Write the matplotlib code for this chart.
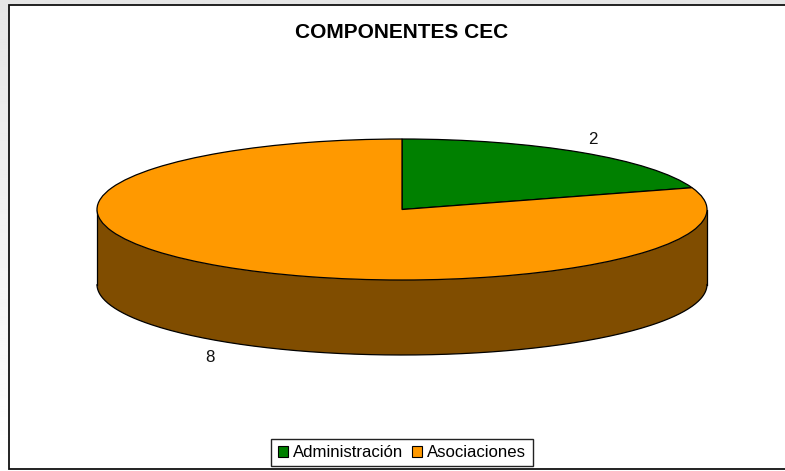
import numpy as np
import matplotlib
matplotlib.use("Agg")
import matplotlib.pyplot as plt
from matplotlib.patches import Rectangle

categories = ["Administración", "Asociaciones"]
values = [2, 8]
value_labels = ["2", "8"]
title = "COMPONENTES CEC"
top_colors = ["#008000", "#FF9900"]
side_colors = ["#004000", "#804D00"]

W, H = 785, 471
plt.rcParams["font.family"] = ["Liberation Sans", "DejaVu Sans"]
fig = plt.figure(figsize=(W / 100, H / 100), dpi=100, facecolor="white")


def px_axes(x0, y0, x1, y1, **kw):
    return fig.add_axes([x0 / W, 1 - y1 / H, (x1 - x0) / W, (y1 - y0) / H], **kw)


# background: soft grey fade behind the chart frame
bg = px_axes(0, 0, W, H)
bg.imshow(np.linspace(0.90, 1.0, 256).reshape(-1, 1), cmap="gray", vmin=0, vmax=1,
          aspect="auto", extent=(0, W, H, 0))
bg.set_xlim(0, W)
bg.set_ylim(H, 0)
bg.axis("off")
bg.add_patch(Rectangle((8.5, 5.2), W + 20, 463.8, facecolor="white",
                       edgecolor="#111111", linewidth=1.3))
bg.text(402, 32, title, ha="center", va="center", fontsize=15, fontweight="bold", color="black")

# pie top
ax = px_axes(97, 139, 707, 280)
ax.patch.set_alpha(0)
wedges, _ = ax.pie(values, colors=top_colors, startangle=90, counterclock=False, radius=1,
                   wedgeprops=dict(edgecolor="black", linewidth=0.9, zorder=3))
ax.set_aspect("auto")
ax.set_xlim(-1, 1)
ax.set_ylim(-1, 1)
ax.axis("off")
for w in wedges:
    w.set_clip_on(False)

# pie side, following the same angles
depth = 75 / 70.5
fractions = np.cumsum([0] + values) / sum(values)
edges = 90 - 360 * fractions
for i, col in enumerate(side_colors):
    hi, lo = edges[i], edges[i + 1]
    t = np.radians(np.linspace(hi, lo, 400))
    t = t[np.sin(t) <= 0]
    if len(t) < 2:
        continue
    x, y = np.cos(t), np.sin(t)
    ax.fill_between(x, y, y - depth, color=col, edgecolor="none", zorder=1, clip_on=False)
    ax.plot(x, y - depth, color="black", lw=0.9, zorder=2, clip_on=False)
    ax.plot([x[0], x[0]], [y[0], y[0] - depth], color="black", lw=0.9, zorder=2, clip_on=False)
    ax.plot([x[-1], x[-1]], [y[-1], y[-1] - depth], color="black", lw=0.9, zorder=2, clip_on=False)

# value labels
bg.text(593, 139.5, value_labels[0], ha="center", va="center", fontsize=12.2, color="#111111", zorder=5)
bg.text(210, 357.5, value_labels[1], ha="center", va="center", fontsize=12.2, color="#111111", zorder=5)

# legend
handles = [Rectangle((0, 0), 1, 1, facecolor=c, edgecolor="black", linewidth=0.8) for c in top_colors]
leg = fig.legend(handles, categories, loc="center", bbox_to_anchor=(402 / W, 1 - 452.5 / H), ncol=2,
                 fontsize=12.1, frameon=True, fancybox=False, edgecolor="#222222", framealpha=1,
                 handlelength=0.62, handleheight=0.62, handletextpad=0.3, columnspacing=0.5,
                 borderpad=0.38, borderaxespad=0)
leg.get_frame().set_linewidth(1.0)

fig.savefig("out.png", dpi=100)
